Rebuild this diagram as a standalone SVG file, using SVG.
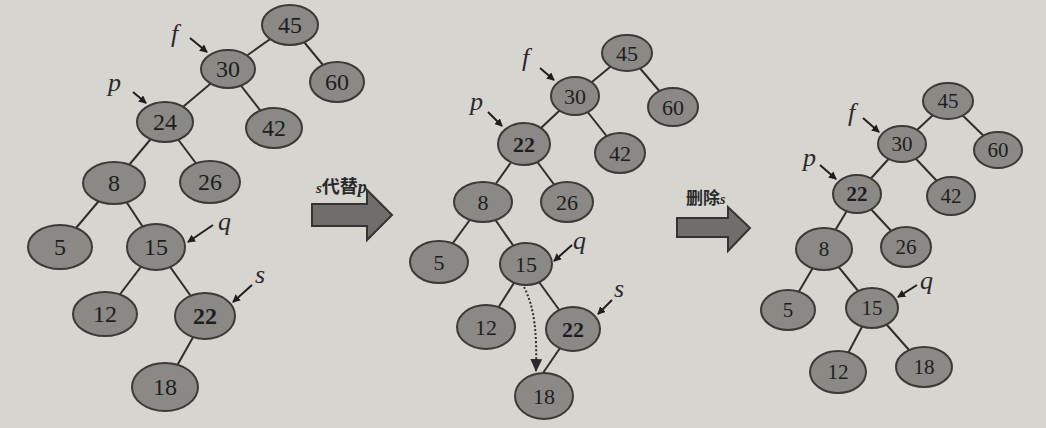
<svg xmlns="http://www.w3.org/2000/svg" width="1046" height="428" viewBox="0 0 1046 428">
<style>
.n ellipse{fill:#8a8986;stroke:#3a3a38;stroke-width:2}
.n text{font-family:"Liberation Serif",serif;fill:#1e1e1e;text-anchor:middle;dominant-baseline:central}
.t1 text{font-size:24px}
.t2 text{font-size:22px}
.t3 text{font-size:21px}
.b{font-weight:bold}
.e line{stroke:#2e2e2c;stroke-width:2}
.lab{font-family:"Liberation Serif",serif;font-style:italic;font-size:26px;fill:#2a2a2a}
.pt{stroke:#1e1e1e;stroke-width:2;marker-end:url(#ah)}
.big{fill:#6f6e6b;stroke:#333;stroke-width:2}
.cap{font-family:"Liberation Serif","Noto Sans CJK SC",serif;font-weight:bold;fill:#2a2a2a}
</style>
<defs>
<marker id="ah" markerWidth="8" markerHeight="8" refX="7" refY="4" orient="auto" markerUnits="userSpaceOnUse">
<path d="M0,0 L8,4 L0,8 Z" fill="#1e1e1e"/>
</marker>
<marker id="ah2" markerWidth="14" markerHeight="12" refX="12" refY="6" orient="auto" markerUnits="userSpaceOnUse">
<path d="M0,0 L13,6 L0,12 Z" fill="#2a2a2a"/>
</marker>
</defs>
<rect x="0" y="0" width="1046" height="428" fill="#d7d5d0"/>

<g id="connectors" class="e">
<line x1="290" y1="25" x2="228" y2="69"/>
<line x1="290" y1="25" x2="337" y2="82"/>
<line x1="228" y1="69" x2="165" y2="122"/>
<line x1="228" y1="69" x2="274" y2="128"/>
<line x1="165" y1="122" x2="114" y2="183"/>
<line x1="165" y1="122" x2="210" y2="182"/>
<line x1="114" y1="183" x2="60" y2="247"/>
<line x1="114" y1="183" x2="156" y2="247"/>
<line x1="156" y1="247" x2="105" y2="314"/>
<line x1="156" y1="247" x2="205" y2="316"/>
<line x1="205" y1="316" x2="165" y2="387"/>

<line x1="627" y1="53" x2="575" y2="96"/>
<line x1="627" y1="53" x2="673" y2="107"/>
<line x1="575" y1="96" x2="524" y2="144"/>
<line x1="575" y1="96" x2="620" y2="153"/>
<line x1="524" y1="144" x2="483" y2="202"/>
<line x1="524" y1="144" x2="567" y2="202"/>
<line x1="483" y1="202" x2="439" y2="262"/>
<line x1="483" y1="202" x2="526" y2="264"/>
<line x1="526" y1="264" x2="486" y2="327"/>
<line x1="526" y1="264" x2="573" y2="329"/>
<line x1="573" y1="329" x2="543" y2="373"/>
<path d="M524,287 C535,308 537,335 536,371" fill="none" stroke="#2e2e2c" stroke-width="2" stroke-dasharray="2,2" marker-end="url(#ah2)"/>

<line x1="948" y1="101" x2="902" y2="144"/>
<line x1="948" y1="101" x2="998" y2="150"/>
<line x1="902" y1="144" x2="857" y2="194"/>
<line x1="902" y1="144" x2="951" y2="196"/>
<line x1="857" y1="194" x2="824" y2="249"/>
<line x1="857" y1="194" x2="906" y2="247"/>
<line x1="824" y1="249" x2="788" y2="310"/>
<line x1="824" y1="249" x2="872" y2="308"/>
<line x1="872" y1="308" x2="838" y2="372"/>
<line x1="872" y1="308" x2="924" y2="367"/>
</g>

<g class="t1">
<g id="a45" class="n"><ellipse cx="290" cy="25" rx="28" ry="20"/><text x="290" y="25">45</text></g>
<g id="a30" class="n"><ellipse cx="228" cy="69" rx="27" ry="19"/><text x="228" y="69">30</text></g>
<g id="a60" class="n"><ellipse cx="337" cy="82" rx="27" ry="20"/><text x="337" y="82">60</text></g>
<g id="a24" class="n"><ellipse cx="165" cy="122" rx="28" ry="20"/><text x="165" y="122">24</text></g>
<g id="a42" class="n"><ellipse cx="274" cy="128" rx="28" ry="20"/><text x="274" y="128">42</text></g>
<g id="a8" class="n"><ellipse cx="114" cy="183" rx="31" ry="21"/><text x="114" y="183">8</text></g>
<g id="a26" class="n"><ellipse cx="210" cy="182" rx="30" ry="21"/><text x="210" y="182">26</text></g>
<g id="a5" class="n"><ellipse cx="60" cy="247" rx="32" ry="22"/><text x="60" y="247">5</text></g>
<g id="a15" class="n"><ellipse cx="156" cy="247" rx="29" ry="23"/><text x="156" y="247">15</text></g>
<g id="a12" class="n"><ellipse cx="105" cy="314" rx="32" ry="22"/><text x="105" y="314">12</text></g>
<g id="a22" class="n"><ellipse cx="205" cy="316" rx="30" ry="23"/><text x="205" y="316" class="b">22</text></g>
<g id="a18" class="n"><ellipse cx="165" cy="387" rx="33" ry="24"/><text x="165" y="387">18</text></g>
</g>

<g class="t2">
<g id="b45" class="n"><ellipse cx="627" cy="53" rx="25" ry="18"/><text x="627" y="53">45</text></g>
<g id="b30" class="n"><ellipse cx="575" cy="96" rx="24" ry="19"/><text x="575" y="96">30</text></g>
<g id="b60" class="n"><ellipse cx="673" cy="107" rx="25" ry="19"/><text x="673" y="107">60</text></g>
<g id="b22p" class="n"><ellipse cx="524" cy="144" rx="26" ry="21"/><text x="524" y="144" class="b">22</text></g>
<g id="b42" class="n"><ellipse cx="620" cy="153" rx="25" ry="20"/><text x="620" y="153">42</text></g>
<g id="b8" class="n"><ellipse cx="483" cy="202" rx="29" ry="20"/><text x="483" y="202">8</text></g>
<g id="b26" class="n"><ellipse cx="567" cy="202" rx="26" ry="20"/><text x="567" y="202">26</text></g>
<g id="b5" class="n"><ellipse cx="439" cy="262" rx="29" ry="21"/><text x="439" y="262">5</text></g>
<g id="b15" class="n"><ellipse cx="526" cy="264" rx="26" ry="21"/><text x="526" y="264">15</text></g>
<g id="b12" class="n"><ellipse cx="486" cy="327" rx="29" ry="22"/><text x="486" y="327">12</text></g>
<g id="b22s" class="n"><ellipse cx="573" cy="329" rx="27" ry="22"/><text x="573" y="329" class="b">22</text></g>
<g id="b18" class="n"><ellipse cx="544" cy="396" rx="29" ry="23"/><text x="544" y="396">18</text></g>
</g>

<g class="t3">
<g id="c45" class="n"><ellipse cx="948" cy="101" rx="25" ry="18"/><text x="948" y="101">45</text></g>
<g id="c30" class="n"><ellipse cx="902" cy="144" rx="24" ry="18"/><text x="902" y="144">30</text></g>
<g id="c60" class="n"><ellipse cx="998" cy="150" rx="24" ry="18"/><text x="998" y="150">60</text></g>
<g id="c22" class="n"><ellipse cx="857" cy="194" rx="24" ry="19"/><text x="857" y="194" class="b">22</text></g>
<g id="c42" class="n"><ellipse cx="951" cy="196" rx="24" ry="19"/><text x="951" y="196">42</text></g>
<g id="c8" class="n"><ellipse cx="824" cy="249" rx="28" ry="21"/><text x="824" y="249">8</text></g>
<g id="c26" class="n"><ellipse cx="906" cy="247" rx="25" ry="20"/><text x="906" y="247">26</text></g>
<g id="c5" class="n"><ellipse cx="788" cy="310" rx="27" ry="20"/><text x="788" y="310">5</text></g>
<g id="c15" class="n"><ellipse cx="872" cy="308" rx="26" ry="20"/><text x="872" y="308">15</text></g>
<g id="c12" class="n"><ellipse cx="838" cy="372" rx="28" ry="21"/><text x="838" y="372">12</text></g>
<g id="c18" class="n"><ellipse cx="924" cy="367" rx="28" ry="20"/><text x="924" y="367">18</text></g>
</g>

<g id="pointers">
<text class="lab" x="171" y="42">f</text>
<line class="pt" x1="190" y1="38" x2="207" y2="52"/>
<text class="lab" x="108" y="91">p</text>
<line class="pt" x1="133" y1="92" x2="146" y2="103"/>
<text class="lab" x="218" y="230">q</text>
<line class="pt" x1="213" y1="225" x2="188" y2="242"/>
<text class="lab" x="255" y="283">s</text>
<line class="pt" x1="252" y1="285" x2="233" y2="302"/>

<text class="lab" x="522" y="66">f</text>
<line class="pt" x1="540" y1="68" x2="554" y2="80"/>
<text class="lab" x="470" y="110">p</text>
<line class="pt" x1="488" y1="112" x2="502" y2="126"/>
<text class="lab" x="573" y="249">q</text>
<line class="pt" x1="572" y1="245" x2="554" y2="261"/>
<text class="lab" x="614" y="297">s</text>
<line class="pt" x1="612" y1="300" x2="598" y2="314"/>

<text class="lab" x="848" y="121">f</text>
<line class="pt" x1="863" y1="118" x2="879" y2="132"/>
<text class="lab" x="803" y="166">p</text>
<line class="pt" x1="820" y1="165" x2="836" y2="179"/>
<text class="lab" x="920" y="289">q</text>
<line class="pt" x1="917" y1="285" x2="898" y2="297"/>
</g>

<g id="arrow1">
<path class="big" d="M312,204 H367 V190 L392,215 L367,240 V226 H312 Z"/>
<text class="cap" x="316" y="193" font-size="18"><tspan font-style="italic" font-size="15">s</tspan>代替<tspan font-style="italic" font-size="18">p</tspan></text>
</g>
<g id="arrow2">
<path class="big" d="M677,218 H728 V207 L750,228 L728,251 V237 H677 Z"/>
<text class="cap" x="686" y="204" font-size="17">删除<tspan font-style="italic" font-size="14">s</tspan></text>
</g>
</svg>
